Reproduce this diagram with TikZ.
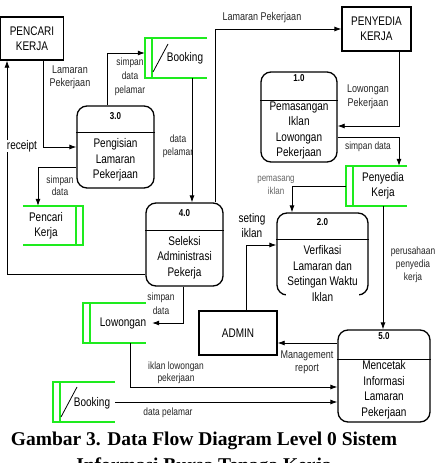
\documentclass[tikz,border=0pt]{standalone}
\usepackage{fontspec}
\setmainfont{Liberation Serif}
\setsansfont[FakeStretch=0.8]{Liberation Sans}
\usetikzlibrary{arrows.meta,calc}
\definecolor{storegreen}{RGB}{30,235,30}
\begin{document}
\begin{tikzpicture}[x=1pt,y=-1pt,
 ent/.style={draw, line width=1.3pt, inner sep=0, font=\sffamily\fontsize{12.5}{15.5}\selectfont, align=center},
 proc/.style={draw, line width=1.3pt, rounded corners=10pt, inner sep=0},
 procline/.style={line width=1.1pt},
 ptxt/.style={fill=white, inner sep=1pt, font=\sffamily\fontsize{12.5}{15.5}\selectfont, align=center},
 pnum/.style={font=\sffamily\bfseries\fontsize{10}{10}\selectfont, inner sep=0},
 storebox/.style={inner sep=0, draw=none},
 store/.style={draw=storegreen, line width=2pt},
 stxt/.style={font=\sffamily\fontsize{12.5}{15}\selectfont, align=center, inner sep=0},
 flow/.style={line width=0.8pt, -{Latex[length=7pt,width=5pt]}},
 lab/.style={font=\sffamily\fontsize{10.5}{13}\selectfont, align=center, inner sep=0, text=black!85},
 labm/.style={font=\sffamily\fontsize{11.25}{13.5}\selectfont, align=center, inner sep=0, text=black!85},
 labl/.style={font=\sffamily\fontsize{12.5}{15}\selectfont, align=center, inner sep=0},
 captxt/.style={font=\rmfamily\bfseries\fontsize{19.5}{22}\selectfont, inner sep=0}
]
\useasboundingbox (0,0) rectangle (437,463);

% external entities
\node[ent, minimum width=63, minimum height=43] (pk) at (32,38.5) {PENCARI\\KERJA};
\node[ent, minimum width=69, minimum height=44] (pyk) at (376.5,29) {PENYEDIA\\KERJA};
\node[ent, minimum width=78, minimum height=44] (admin) at (238,333) {ADMIN};

% processes
\node[proc, minimum width=77, minimum height=82] (p3) at (115.5,147) {};
\node[proc, minimum width=76, minimum height=90] (p1) at (299,117) {};
\node[proc, minimum width=91, minimum height=82] (p2) at (322.5,254) {};
\node[proc, minimum width=77, minimum height=83] (p4) at (184.5,244.5) {};
\node[proc, minimum width=92, minimum height=92] (p5) at (384,376) {};

\draw[procline] ([yshift=-27]p3.north west) -- ([yshift=-27]p3.north east);
\draw[procline] ([yshift=-29]p1.north west) -- ([yshift=-29]p1.north east);
\draw[procline] ([yshift=-27]p2.north west) -- ([yshift=-27]p2.north east);
\draw[procline] ([yshift=-28]p4.north west) -- ([yshift=-28]p4.north east);
\draw[procline] ([yshift=-30]p5.north west) -- ([yshift=-30]p5.north east);

\node[pnum] (n3) at ([yshift=-11]p3.north) {3.0};
\node[pnum] (n1) at ([yshift=-7]p1.north) {1.0};
\node[pnum] (n2) at ([yshift=-10]p2.north) {2.0};
\node[pnum] (n4) at ([yshift=-11]p4.north) {4.0};
\node[pnum] (n5) at ([yshift=-7]p5.north) {5.0};

\node[ptxt] (t3) at (115.5,160) {Pengisian\\Lamaran\\Pekerjaan};
\node[ptxt] (t1) at (299,130.5) {Pemasangan\\Iklan\\Lowongan\\Pekerjaan};
\node[ptxt] (t2) at (322.5,273.5) {Verfikasi\\Lamaran dan\\Setingan Waktu\\Iklan};
\node[ptxt] (t4) at (184.5,257.5) {Seleksi\\Administrasi\\Pekerja};
\node[ptxt] (t5) at (384,390) {Mencetak\\Informasi\\Lamaran\\Pekerjaan};

% data stores
\node[storebox, minimum width=62, minimum height=40] (bk1) at (176,58) {};
\node[storebox, minimum width=60, minimum height=39] (spk) at (53,225.5) {};
\node[storebox, minimum width=61, minimum height=40] (spy) at (376.5,186) {};
\node[storebox, minimum width=63, minimum height=40] (slw) at (114.5,323) {};
\node[storebox, minimum width=62, minimum height=40] (bk2) at (84,402) {};

\draw[store] (bk1.north east) -- (bk1.north west) -- (bk1.south west) -- (bk1.south east);
\draw[store] ([xshift=7]bk1.north west) -- ([xshift=7]bk1.south west);
\draw[store] (spy.north east) -- (spy.north west) -- (spy.south west) -- (spy.south east);
\draw[store] ([xshift=7]spy.north west) -- ([xshift=7]spy.south west);
\draw[store] (slw.north east) -- (slw.north west) -- (slw.south west) -- (slw.south east);
\draw[store] ([xshift=7.5]slw.north west) -- ([xshift=7.5]slw.south west);
\draw[store] (bk2.north east) -- (bk2.north west) -- (bk2.south west) -- (bk2.south east);
\draw[store] ([xshift=7.5]bk2.north west) -- ([xshift=7.5]bk2.south west);
\draw[store] (spk.north west) -- (spk.north east) -- (spk.south east) -- (spk.south west);
\draw[store] ([xshift=-7]spk.north east) -- ([xshift=-7]spk.south east);

\draw[line width=0.8pt] ([xshift=-23,yshift=-14]bk1.center) -- ([xshift=-8,yshift=14]bk1.center);
\draw[line width=0.8pt] ([xshift=-23,yshift=-15]bk2.center) -- ([xshift=-7,yshift=15]bk2.center);

\node[stxt] (bk1t) at (185,58) {Booking};
\node[stxt] (spkt) at (46,225.5) {Pencari\\Kerja};
\node[stxt] (spyt) at (383,185.5) {Penyedia\\Kerja};
\node[stxt] (slwt) at (123,323) {Lowongan};
\node[stxt] (bk2t) at (92,403) {Booking};

% flows
\draw[flow] ([xshift=11]pk.south) |- (p3.west);
\draw[flow] ([yshift=-29.5]p4.west) -| ([xshift=-25]pk.south);
\draw[flow] ([xshift=-8.5]p3.north) |- ([yshift=5]bk1.west);
\draw[flow] ([xshift=16]bk1.south) -- ([xshift=16]bk1.south |- p4.north);
\draw[flow] ([xshift=30.5]p4.north) |- (pyk.west);
\draw[flow] ([xshift=22.5]pyk.south) |- ([yshift=-9]p1.east);
\draw[flow] ([yshift=-20]p1.east) -| ([xshift=22.5]spy.north);
\draw[flow] (spy.west) -| ([xshift=-30.5]p2.north);
\draw[flow] ([xshift=6.5]spy.south) -- ([xshift=6.5]spy.south |- p5.north);
\draw[flow] ([xshift=8]admin.north) |- ([yshift=9]p2.west);
\draw[flow] ([yshift=33]p5.west) -- ([yshift=33]p5.west -| admin.east);
\draw[flow] ([xshift=-1.5]p4.south) |- ([xshift=6]slw.east);
\draw[flow] ([xshift=15.5]slw.south) |- ([yshift=-11]p5.west);
\draw[flow] (bk2.east) -- ([yshift=-26]p5.west);
\draw[flow] ([yshift=-20]p3.west) -| ([xshift=-15]spk.north);

% flow labels
\node[labm] (l1) at (70,77.5) {Lamaran\\Pekerjaan};
\node[labl, fill=white, inner sep=0.5pt] (l2) at (22,146) {receipt};
\node[lab, font=\sffamily\fontsize{10.5}{14}\selectfont] (l3) at (130,77) {simpan\\data\\pelamar};
\node[lab] (l4) at (178,146.5) {data\\pelamar};
\node[labm] (l5) at (262,18) {Lamaran Pekerjaan};
\node[labm] (l6) at (368,97) {Lowongan\\Pekerjaan};
\node[lab] (l7) at (368,147) {simpan data};
\node[lab, font=\sffamily\fontsize{10}{13}\selectfont, text=black!60] (l8) at (276,185.5) {pemasang\\iklan};
\node[lab] (l9) at (413,265) {perusahaan\\penyedia\\kerja};
\node[labl] (l10) at (252,225.5) {seting\\iklan};
\node[labm] (l11) at (307,362.5) {Management\\report};
\node[lab, font=\sffamily\fontsize{10.5}{14}\selectfont] (l12) at (161,304) {simpan\\data};
\node[lab, font=\sffamily\fontsize{10.5}{12}\selectfont] (l13) at (176,373) {iklan lowongan\\pekerjaan};
\node[lab] (l14) at (168,413) {data pelamar};
\node[lab, font=\sffamily\fontsize{10.5}{12}\selectfont] (l15) at (60,186) {simpan\\data};

% caption
\node[captxt] (cap1) at (204,441) {Gambar 3. Data Flow Diagram Level 0 Sistem};
\node[captxt, anchor=base] (cap2) at (204,471) {Informasi Bursa Tenaga Kerja};
\end{tikzpicture}
\end{document}
